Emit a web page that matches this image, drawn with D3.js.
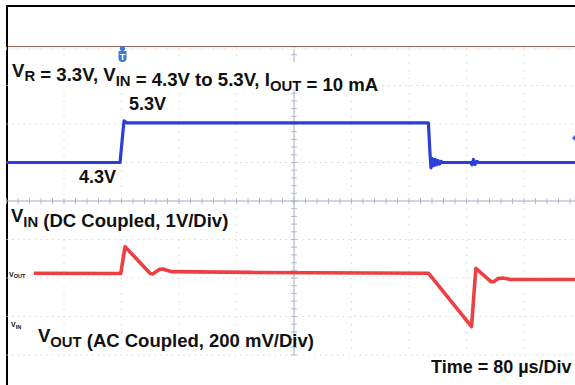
<!DOCTYPE html>
<html>
<head>
<meta charset="utf-8">
<script src="https://cdn.jsdelivr.net/npm/d3@7"></script>
<style>
  body { margin: 0; background: #fff; }
  svg { display: block; }
  .lbl { font-family: "Liberation Sans", Arial, sans-serif; font-weight: bold; fill: #111; }
</style>
</head>
<body>
<svg id="chart" width="575" height="385"></svg>
<script>
'use strict';

// time in µs (80 µs/div, trigger at t = 0)
var vinTime = [-160, -2, 1, 3.5, 7.6, 427, 429, 430.6, 432.5, 434.5, 436.5, 438.5, 440.5, 442.5, 444.5, 446.5, 486, 487.6, 489.7, 491.8, 494.6, 497, 640];
// V_IN, volts (1 V/div, DC coupled)
var vinVolts = [4.3, 4.3, 4.9, 5.38, 5.33, 5.33, 4.6, 4.16, 4.4, 4.22, 4.38, 4.24, 4.35, 4.26, 4.33, 4.3, 4.3, 4.24, 4.38, 4.25, 4.33, 4.3, 4.3];

// V_OUT, mV deviation (200 mV/div, AC coupled)
var voutTime = [-122, -1, 4.9, 40, 44, 48, 53, 58, 63, 70, 179, 427, 487, 493, 514, 518, 524, 530, 540, 640];
var voutMv   = [0, -2, 138, -2, -4, 8, 20, 22, 15, 8, 4, 0, -278, 25, -44, -44, -28, -25, -32, -33];

var xDomain = [-160, 640];        // 10 divisions
var vinDomain = [-0.7, 7.3];      // 8 divisions of 1 V
var voutDomain = [-425, 1175];    // 8 divisions of 200 mV

var svg = d3.select("#chart");

var pLeft = 6.5, pRight = 581.5, pTop = 47, pBottom = 355;

var x = d3.scaleLinear().domain(xDomain).range([pLeft, pRight]);
var yIn = d3.scaleLinear().domain(vinDomain).range([pBottom, pTop]);
var yOut = d3.scaleLinear().domain(voutDomain).range([pBottom, pTop]);

// graticule division scales
var gx = d3.scaleLinear().domain([0, 10]).range([pLeft, pRight]);
var gy = d3.scaleLinear().domain([0, 8]).range([pBottom, pTop]);

// outer frame
svg.append("line").attr("x1", 6).attr("x2", 575).attr("y1", 6).attr("y2", 6)
  .attr("stroke", "#000").attr("stroke-width", 2);
svg.append("line").attr("x1", 7).attr("x2", 7).attr("y1", 5).attr("y2", 385)
  .attr("stroke", "#000").attr("stroke-width", 2);

var grid = svg.append("g");

// dotted division lines
d3.range(1, 10).filter(d => d !== 5).forEach(d => {
  grid.append("line")
    .attr("x1", gx(d)).attr("x2", gx(d)).attr("y1", pTop).attr("y2", pBottom)
    .attr("stroke", "#cfcfcf").attr("stroke-width", 1)
    .attr("stroke-dasharray", "1.2,6.5");
});
d3.range(0, 8).filter(d => d !== 4).forEach(d => {
  grid.append("line")
    .attr("x1", pLeft).attr("x2", 575).attr("y1", gy(d)).attr("y2", gy(d))
    .attr("stroke", "#cfcfcf").attr("stroke-width", 1)
    .attr("stroke-dasharray", "1.2,4.5");
});

// center axes with minor ticks
var axisCol = "#a4adbd";
grid.append("line").attr("x1", gx(5)).attr("x2", gx(5)).attr("y1", pTop).attr("y2", pBottom)
  .attr("stroke", axisCol).attr("stroke-width", 1);
grid.append("line").attr("x1", pLeft).attr("x2", 575).attr("y1", gy(4)).attr("y2", gy(4))
  .attr("stroke", axisCol).attr("stroke-width", 1);
d3.range(0, 40.01, 1).forEach(i => {
  var yy = gy(i / 5);
  grid.append("line").attr("x1", gx(5) - 3).attr("x2", gx(5) + 3).attr("y1", yy).attr("y2", yy)
    .attr("stroke", axisCol).attr("stroke-width", 0.8);
});
d3.range(0, 50.01, 1).forEach(i => {
  var xx = gx(i / 5);
  grid.append("line").attr("x1", xx).attr("x2", xx).attr("y1", gy(4) - 3).attr("y2", gy(4) + 3)
    .attr("stroke", axisCol).attr("stroke-width", 0.8);
  grid.append("line").attr("x1", xx).attr("x2", xx).attr("y1", pTop).attr("y2", pTop + 3)
    .attr("stroke", "#dcc3ae").attr("stroke-width", 0.8);
});

// top border of the graticule
svg.append("rect").attr("x", 8).attr("y", pTop).attr("width", 570).attr("height", 3)
  .attr("fill", "#fbefe6").attr("fill-opacity", 0.6);
svg.append("line").attr("x1", 8).attr("x2", 575).attr("y1", pTop - 0.5).attr("y2", pTop - 0.5)
  .attr("stroke", "#8a6a58").attr("stroke-width", 1.2);

// white boxes behind the labels
svg.append("rect").attr("x", 8).attr("y", 62).attr("width", 374).attr("height", 27).attr("fill", "#fff");
svg.append("rect").attr("x", 8).attr("y", 204).attr("width", 226).attr("height", 29).attr("fill", "#fff");

// traces
var vinLine = d3.line().x(d => x(d[0])).y(d => yIn(d[1]));
var voutLine = d3.line().x(d => x(d[0])).y(d => yOut(d[1]));

svg.append("path")
  .datum(d3.zip(vinTime, vinVolts))
  .attr("d", vinLine)
  .attr("fill", "none").attr("stroke", "#2b3fd8").attr("stroke-width", 3.2)
  .attr("stroke-linejoin", "round");

svg.append("path")
  .datum(d3.zip(voutTime, voutMv))
  .attr("d", voutLine)
  .attr("fill", "none").attr("stroke", "#ec2a2f").attr("stroke-width", 3.6)
  .attr("stroke-opacity", 0.9).attr("stroke-linejoin", "round");

// trigger marker
var tx = x(0) + 1;
svg.append("circle").attr("cx", tx).attr("cy", pTop + 1.5).attr("r", 2.6).attr("fill", "#3b78d0");
svg.append("path")
  .attr("d", "M" + (tx - 4) + "," + (pTop + 4) + "h8v7a4,4 0 0 1 -8,0z")
  .attr("fill", "#3b78d0");
svg.append("text").attr("x", tx).attr("y", pTop + 13).attr("text-anchor", "middle")
  .attr("font-family", "Liberation Sans, Arial, sans-serif").attr("font-weight", "bold")
  .attr("font-size", 9).attr("fill", "#fff").text("T");

// channel marker at right edge
svg.append("path").attr("d", "M575,135l-3,3l3,3z").attr("fill", "#3b5ee0");

// labels
function sub(t, parts, size) {
  parts.forEach(p => {
    if (p.sub) {
      t.append("tspan").attr("dy", size * 0.26).attr("font-size", size * 0.8).text(p.sub);
      t.append("tspan").attr("dy", -size * 0.26).text("");
    } else {
      t.append("tspan").text(p.t);
    }
  });
}

var t1 = svg.append("text").attr("class", "lbl").attr("x", 12).attr("y", 76.5).attr("font-size", 18.6);
sub(t1, [{t: "V"}, {sub: "R"}, {t: " = 3.3V, V"}, {sub: "IN"}, {t: " = 4.3V to 5.3V, I"}, {sub: "OUT"}, {t: " = 10 mA"}], 18.6);

svg.append("text").attr("class", "lbl").attr("x", 129).attr("y", 110).attr("font-size", 18).text("5.3V");
svg.append("text").attr("class", "lbl").attr("x", 79).attr("y", 183).attr("font-size", 18).text("4.3V");

var t2 = svg.append("text").attr("class", "lbl").attr("x", 11).attr("y", 222).attr("font-size", 18.5);
sub(t2, [{t: "V"}, {sub: "IN"}, {t: " (DC Coupled, 1V/Div)"}], 18.5);

var t3 = svg.append("text").attr("class", "lbl").attr("x", 38).attr("y", 342).attr("font-size", 18.5);
sub(t3, [{t: "V"}, {sub: "OUT"}, {t: " (AC Coupled, 200 mV/Div)"}], 18.5);

var t4 = svg.append("text").attr("class", "lbl").attr("x", 9).attr("y", 276.5).attr("font-size", 7);
sub(t4, [{t: "V"}, {sub: "OUT"}], 7);
var t5 = svg.append("text").attr("class", "lbl").attr("x", 11).attr("y", 327).attr("font-size", 7);
sub(t5, [{t: "V"}, {sub: "IN"}], 7);

svg.append("text").attr("class", "lbl").attr("x", 431).attr("y", 373).attr("font-size", 18)
  .text("Time = 80 µs/Div");
</script>
</body>
</html>
